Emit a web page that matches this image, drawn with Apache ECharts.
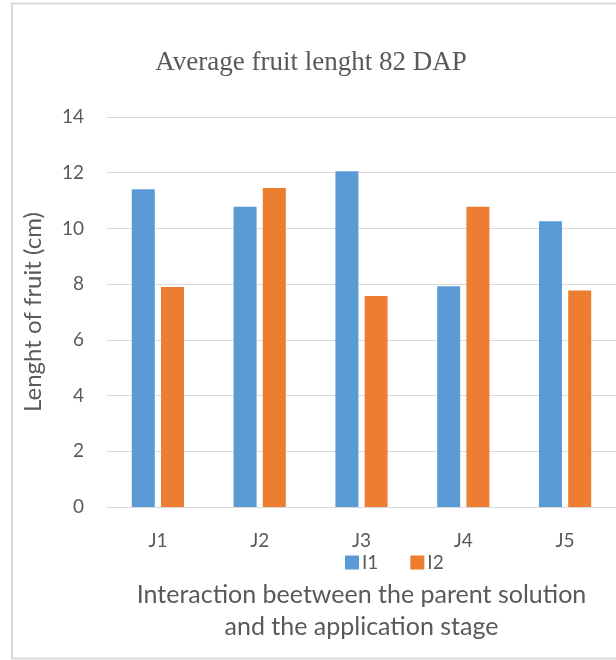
<!DOCTYPE html>
<html>
<head>
<meta charset="utf-8">
<script src="https://cdn.jsdelivr.net/npm/echarts@6/dist/echarts.min.js"></script>
<style>
  html, body { margin: 0; padding: 0; background: #ffffff; }
  #chart { width: 616px; height: 660px; }
</style>
</head>
<body>
<div id="chart"></div>
<script>
// Treatment combinations (parent solution x application stage)
const categories = ['J1', 'J2', 'J3', 'J4', 'J5'];
// Mean fruit length (cm) per treatment level
const seriesI1 = [11.41, 10.78, 12.05, 7.92, 10.26];
const seriesI2 = [7.90, 11.45, 7.57, 10.78, 7.77];
const yTicks = { min: 0, max: 14, interval: 2 };

const textColor = '#595959';
const gridColor = '#d9d9d9';
const sans = 'Lato, "Liberation Sans", sans-serif';

const chart = echarts.init(document.getElementById('chart'), null, { renderer: 'canvas' });

chart.setOption({
  animation: false,
  backgroundColor: '#ffffff',
  title: {
    text: 'Average fruit lenght 82 DAP',
    left: 306,
    textAlign: 'center',
    top: 44,
    textStyle: {
      fontFamily: '"Liberation Serif", "Times New Roman", serif',
      fontSize: 27,
      fontWeight: 'normal',
      color: textColor
    }
  },
  legend: {
    data: ['I1', 'I2'],
    left: 340,
    top: 548,
    itemWidth: 14,
    itemHeight: 14,
    itemGap: 32,
    icon: 'rect',
    textStyle: { fontFamily: sans, fontSize: 19, color: textColor, padding: [0, 0, 0, -2] }
  },
  grid: { left: 107, right: -2, top: 117, bottom: 153 },
  xAxis: {
    type: 'category',
    data: categories,
    axisLine: { lineStyle: { color: gridColor, width: 1 } },
    axisTick: { show: false },
    axisLabel: { fontFamily: sans, fontSize: 19, color: textColor, margin: 24 },
    name: 'Interaction beetween the parent solution\nand the application stage',
    nameLocation: 'middle',
    nameGap: 72,
    nameTextStyle: {
      fontFamily: sans,
      fontSize: 25,
      color: textColor,
      lineHeight: 32,
      verticalAlign: 'top'
    }
  },
  yAxis: {
    type: 'value',
    min: yTicks.min,
    max: yTicks.max,
    interval: yTicks.interval,
    axisLine: { show: false },
    axisTick: { show: false },
    splitLine: { lineStyle: { color: gridColor, width: 1 } },
    axisLabel: { fontFamily: sans, fontSize: 19, color: textColor, margin: 23 },
    name: 'Lenght of fruit (cm)',
    nameLocation: 'middle',
    nameGap: 62,
    nameRotate: 90,
    nameTextStyle: { fontFamily: sans, fontSize: 24, color: textColor }
  },
  series: [
    {
      name: 'I1',
      type: 'bar',
      data: seriesI1,
      barWidth: 23,
      barGap: '27%',
      itemStyle: { color: '#5b9bd5' }
    },
    {
      name: 'I2',
      type: 'bar',
      data: seriesI2,
      barWidth: 23,
      barGap: '27%',
      itemStyle: { color: '#ed7d31' }
    }
  ],
  graphic: [
    {
      type: 'rect',
      silent: true,
      shape: { x: 12, y: 3.5, width: 700, height: 655 },
      style: { fill: 'none', stroke: gridColor, lineWidth: 2 }
    }
  ]
});
</script>
</body>
</html>
